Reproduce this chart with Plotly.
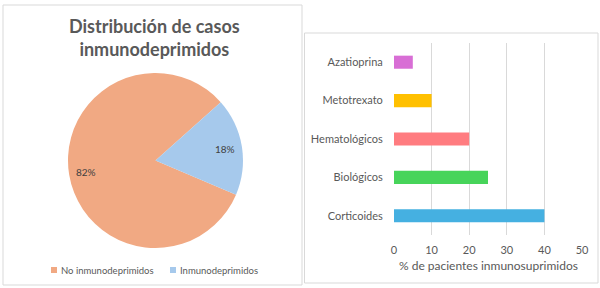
import math
import plotly.graph_objects as go

# ---- data ----
pie_labels = ["No inmunodeprimidos", "Inmunodeprimidos"]
pie_values = [82, 18]
pie_colors = ["#F1A983", "#A6C9EC"]

bar_categories = ["Corticoides", "Biológicos", "Hematológicos", "Metotrexato", "Azatioprina"]
bar_values = [40, 25, 20, 10, 5]
bar_colors = ["#45B0E1", "#47D45A", "#FF7C80", "#FFC000", "#D86ED5"]

x_ticks = [0, 10, 20, 30, 40, 50]
x_title = "% de pacientes inmunosuprimidos"

W, H = 600, 288
FONT = "Lato"
GRAY = "#595959"

def px(x):
    return x / W

def py(y):
    return 1 - y / H

fig = go.Figure()

# pie geometry
cx, cy, r = 155.5, 160.5, 87.5
rotation = 113

fig.add_trace(go.Pie(
    labels=pie_labels, values=pie_values, sort=False, direction="clockwise",
    rotation=rotation, marker=dict(colors=pie_colors, line=dict(width=0)),
    textinfo="none", hoverinfo="label+percent", showlegend=False,
    domain=dict(x=[px(cx - r), px(cx + r)], y=[py(cy + r), py(cy - r)]),
))

# percentage labels placed along slice bisectors
total = sum(pie_values)
start = rotation
annotations = []
for v in pie_values:
    span = 360 * v / total
    mid = math.radians(start + span / 2)
    lx = cx + 0.8 * r * math.sin(mid)
    ly = cy - 0.8 * r * math.cos(mid)
    annotations.append(dict(
        x=px(lx), y=py(ly), xref="paper", yref="paper", showarrow=False,
        text=f"{round(100 * v / total)}%", font=dict(family=FONT, size=10, color="#404040"),
        xanchor="center", yanchor="middle"))
    start += span

# title
annotations.append(dict(
    x=px(154), y=py(38), xref="paper", yref="paper", showarrow=False,
    text="<b>Distribución de casos<br>inmunodeprimidos</b>",
    font=dict(family=FONT, size=18, color=GRAY), xanchor="center", yanchor="middle"))

# bar x-axis title
annotations.append(dict(
    x=0.5, xref="x domain", y=py(265), yref="paper", showarrow=False,
    text=x_title, font=dict(family=FONT, size=12, color=GRAY),
    xanchor="center", yanchor="middle"))

# manual legend for pie
shapes = []
leg_items = [(54, pie_labels[0], pie_colors[0]), (173, pie_labels[1], pie_colors[1])]
for lxp, lab, col in leg_items:
    shapes.append(dict(type="rect", xref="paper", yref="paper",
                       x0=px(lxp - 3), x1=px(lxp + 3), y0=py(273), y1=py(267),
                       fillcolor=col, line=dict(width=0)))
    annotations.append(dict(x=px(lxp + 5), y=py(270), xref="paper", yref="paper", showarrow=False,
                            text=lab, font=dict(family=FONT, size=9.5, color=GRAY),
                            xanchor="left", yanchor="middle"))

# bar chart
fig.add_trace(go.Bar(
    x=bar_values, y=bar_categories, orientation="h",
    marker=dict(color=bar_colors, line=dict(width=0)), width=0.34,
    showlegend=False, xaxis="x", yaxis="y",
))

# panel borders
shapes.append(dict(type="rect", xref="paper", yref="paper",
                   x0=px(3), x1=px(302), y0=py(285), y1=py(5),
                   line=dict(color="#D9D9D9", width=1), layer="below"))
shapes.append(dict(type="rect", xref="paper", yref="paper",
                   x0=px(304.5), x1=px(598), y0=py(283), y1=py(33),
                   line=dict(color="#D9D9D9", width=1), layer="below"))

fig.update_layout(
    width=W, height=H, margin=dict(l=0, r=0, t=0, b=0, autoexpand=False),
    paper_bgcolor="white", plot_bgcolor="white",
    font=dict(family=FONT, color=GRAY),
    xaxis=dict(domain=[px(394), px(582)], range=[0, 50], tickvals=x_ticks, automargin=False,
               showgrid=True, gridcolor="#D9D9D9", gridwidth=1, zeroline=False,
               showline=False, ticks="outside", ticklen=5, tickcolor="rgba(0,0,0,0)",
               tickfont=dict(family=FONT, size=11, color=GRAY)),
    yaxis=dict(domain=[py(235), py(43)], categoryorder="array", categoryarray=bar_categories,
               automargin=False, showgrid=False, zeroline=False, showline=False,
               ticks="outside", ticklen=8, tickcolor="rgba(0,0,0,0)",
               tickfont=dict(family=FONT, size=11, color=GRAY)),
    shapes=shapes, annotations=annotations, bargap=0.66,
)

fig.write_html("out.html", config={"displayModeBar": False},
               post_script="document.body.style.margin='0';document.body.style.padding='0';")
